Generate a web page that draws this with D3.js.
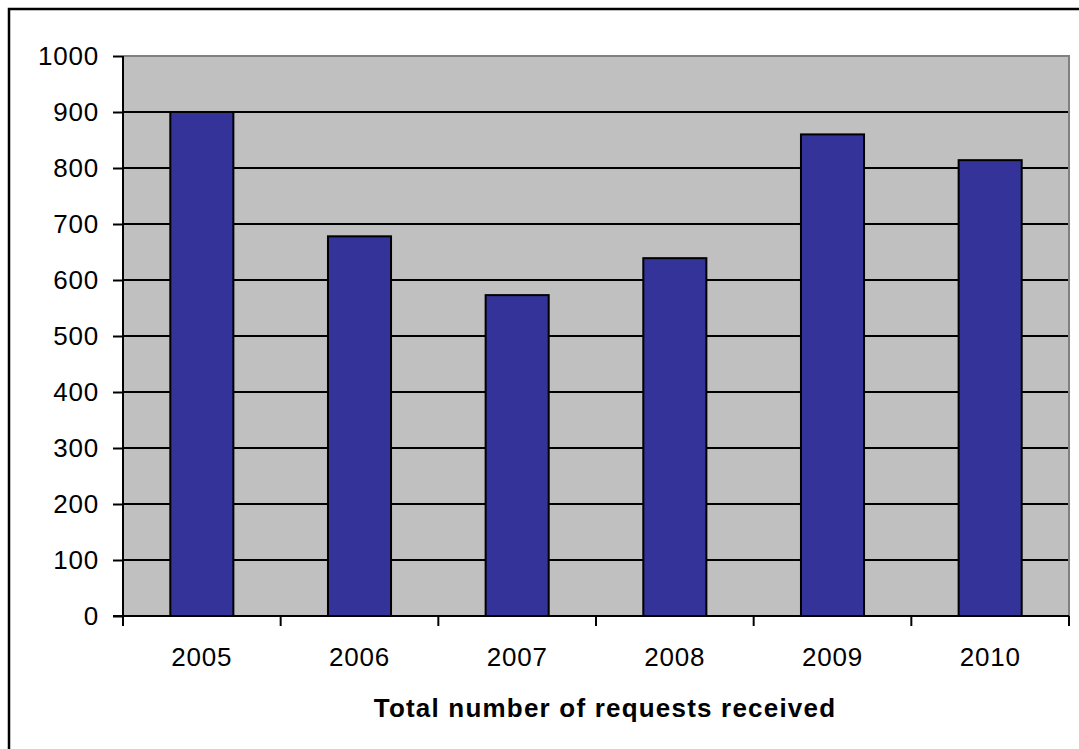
<!DOCTYPE html>
<html>
<head>
<meta charset="utf-8">
<script src="https://cdn.jsdelivr.net/npm/d3@7"></script>
<style>
  html, body { margin: 0; padding: 0; background: #fff; }
  svg { display: block; }
  text { font-family: "Liberation Sans", Arial, sans-serif; fill: #000; }
</style>
</head>
<body>
<svg id="chart" width="1079" height="749"></svg>
<script>
// Requests received per year
const years = ["2005", "2006", "2007", "2008", "2009", "2010"];
const requests = [900, 678, 573, 639, 860, 814];
const yTicks = [0, 100, 200, 300, 400, 500, 600, 700, 800, 900, 1000];
const axisTitle = "Total number of requests received";

const svg = d3.select("#chart");
const W = 1079, H = 749;
const plot = { left: 123, right: 1069, top: 56, bottom: 616 };

// outer chart frame (extends past the right/bottom edges)
svg.append("rect")
  .attr("x", 9).attr("y", 9)
  .attr("width", W + 20).attr("height", H + 20)
  .attr("fill", "#fff").attr("stroke", "#000").attr("stroke-width", 2.5);

const x = d3.scaleBand()
  .domain(years)
  .range([plot.left, plot.right])
  .paddingInner(0.6)
  .paddingOuter(0.3);

const y = d3.scaleLinear()
  .domain([0, 1000])
  .range([plot.bottom, plot.top]);

// plot background
svg.append("rect")
  .attr("x", plot.left).attr("y", plot.top)
  .attr("width", plot.right - plot.left)
  .attr("height", plot.bottom - plot.top)
  .attr("fill", "#c0c0c0");

// gray frame on top and right of the plot area
svg.append("path")
  .attr("d", `M${plot.left},${plot.top}H${plot.right}V${plot.bottom}`)
  .attr("fill", "none").attr("stroke", "#808080").attr("stroke-width", 2);

// horizontal gridlines
svg.append("g")
  .selectAll("line")
  .data(yTicks.filter(v => v > 0 && v < 1000))
  .join("line")
  .attr("x1", plot.left).attr("x2", plot.right - 1)
  .attr("y1", d => y(d)).attr("y2", d => y(d))
  .attr("stroke", "#000").attr("stroke-width", 2);

// bars
svg.append("g")
  .selectAll("rect")
  .data(years.map((yr, i) => ({ yr, v: requests[i] })))
  .join("rect")
  .attr("x", d => x(d.yr))
  .attr("y", d => y(d.v))
  .attr("width", x.bandwidth())
  .attr("height", d => y(0) - y(d.v))
  .attr("fill", "#333399")
  .attr("stroke", "#000").attr("stroke-width", 2);

// y axis
const yAxis = d3.axisLeft(y).tickValues(yTicks).tickFormat(d3.format("d"))
  .tickSize(10).tickPadding(14);
const gy = svg.append("g")
  .attr("transform", `translate(${plot.left},0)`)
  .call(yAxis);
gy.select(".domain").attr("stroke", "#000").attr("stroke-width", 2)
  .attr("d", `M0,${plot.top}V${plot.bottom}`);
gy.selectAll(".tick line").attr("stroke", "#000").attr("stroke-width", 2);
gy.selectAll(".tick text")
  .style("font-family", "'Liberation Sans', Arial, sans-serif")
  .style("font-size", "26px").style("letter-spacing", "0.8px")
  .attr("fill", "#000");

// x axis: category labels centred, ticks at category boundaries
const xAxis = d3.axisBottom(x).tickSize(0).tickPadding(32);
const gx = svg.append("g")
  .attr("transform", `translate(0,${plot.bottom})`)
  .call(xAxis);
gx.select(".domain").attr("stroke", "#000").attr("stroke-width", 2)
  .attr("d", `M${plot.left - 10},0H${plot.right}`);
gx.selectAll(".tick text")
  .style("font-family", "'Liberation Sans', Arial, sans-serif")
  .style("font-size", "26px").style("letter-spacing", "0.8px")
  .attr("fill", "#000");

const step = x.step();
gx.append("g")
  .selectAll("line")
  .data(d3.range(years.length + 1))
  .join("line")
  .attr("x1", i => plot.left + i * step)
  .attr("x2", i => plot.left + i * step)
  .attr("y1", 0).attr("y2", 10)
  .attr("stroke", "#000").attr("stroke-width", 2);

// axis title
svg.append("text")
  .attr("x", (plot.left + plot.right) / 2 + 9)
  .attr("y", 717)
  .attr("text-anchor", "middle")
  .style("font-size", "26px")
  .style("font-weight", "bold")
  .style("letter-spacing", "1.2px")
  .text(axisTitle);
</script>
</body>
</html>
